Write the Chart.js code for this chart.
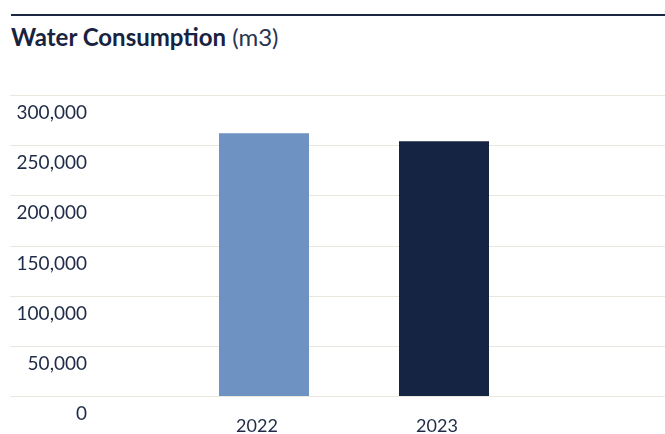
<!DOCTYPE html>
<html>
<head>
<meta charset="utf-8">
<script src="https://cdn.jsdelivr.net/npm/chart.js@4"></script>
<style>
  html, body { margin: 0; padding: 0; background: #fff; }
  .wrap { position: relative; width: 665px; height: 434px; overflow: hidden; }
  .rule { position: absolute; left: 11px; right: 0; top: 14px; height: 2px; background: #1c2742; }
  .title { position: absolute; left: 11px; top: 25px; font: 24px/24px Lato, sans-serif; color: #18233f; white-space: nowrap; }
  .title b { font-weight: 700; }
  .title span { font-weight: 400; color: #2a3450; }
  canvas { position: absolute; left: 0; top: 0; }
</style>
</head>
<body>
<div class="wrap">
  <div class="rule"></div>
  <div class="title"><b>Water Consumption</b> <span>(m3)</span></div>
  <canvas id="chart" width="665" height="434"></canvas>
</div>
<script>
// data
const years = ['2022', '2023'];
const consumption = [262000, 254000];
const barColors = ['#6e92c1', '#162443'];
const yTicks = [0, 50000, 100000, 150000, 200000, 250000, 300000];

const textColor = '#1f2b47';
const gridColor = '#ebe6dd';

// horizontal grid lines run the full width, under the labels too
const fullGrid = {
  id: 'fullGrid',
  beforeDatasetsDraw(chart) {
    const y = chart.scales.y;
    const ctx = chart.ctx;
    ctx.save();
    ctx.strokeStyle = gridColor;
    ctx.lineWidth = 1;
    for (const t of y.ticks) {
      const py = Math.round(y.getPixelForValue(t.value)) + 0.5;
      ctx.beginPath();
      ctx.moveTo(10, py);
      ctx.lineTo(chart.width, py);
      ctx.stroke();
    }
    ctx.restore();
  }
};

new Chart(document.getElementById('chart'), {
  type: 'bar',
  data: {
    labels: years,
    datasets: [{
      data: consumption,
      backgroundColor: barColors,
      borderWidth: 0,
      categoryPercentage: 1,
      barPercentage: 0.5
    }]
  },
  options: {
    responsive: false,
    animation: false,
    layout: { padding: { left: 10, right: 131, top: 95, bottom: 0 } },
    plugins: { legend: { display: false }, tooltip: { enabled: false } },
    scales: {
      x: {
        afterFit: s => { s.height = 38; },
        grid: { display: false, drawTicks: false },
        border: { display: false },
        ticks: {
          color: textColor,
          font: { family: 'Lato', size: 18 },
          padding: 19,
          labelOffset: -7
        }
      },
      y: {
        min: 0,
        max: 300000,
        afterBuildTicks: s => { s.ticks = yTicks.map(v => ({ value: v })); },
        afterFit: s => {
          // labels sit in the left gutter; don't let the big padding push the plot
          s.width = 164;
          s.paddingTop = 0;
          s.paddingBottom = 0;
        },
        grid: { display: false, drawTicks: false },
        border: { display: false },
        ticks: {
          color: textColor,
          font: { family: 'Lato', size: 19 },
          padding: 87,
          labelOffset: 18,
          callback: v => v.toLocaleString('en-US')
        }
      }
    }
  },
  plugins: [fullGrid]
});
</script>
</body>
</html>
